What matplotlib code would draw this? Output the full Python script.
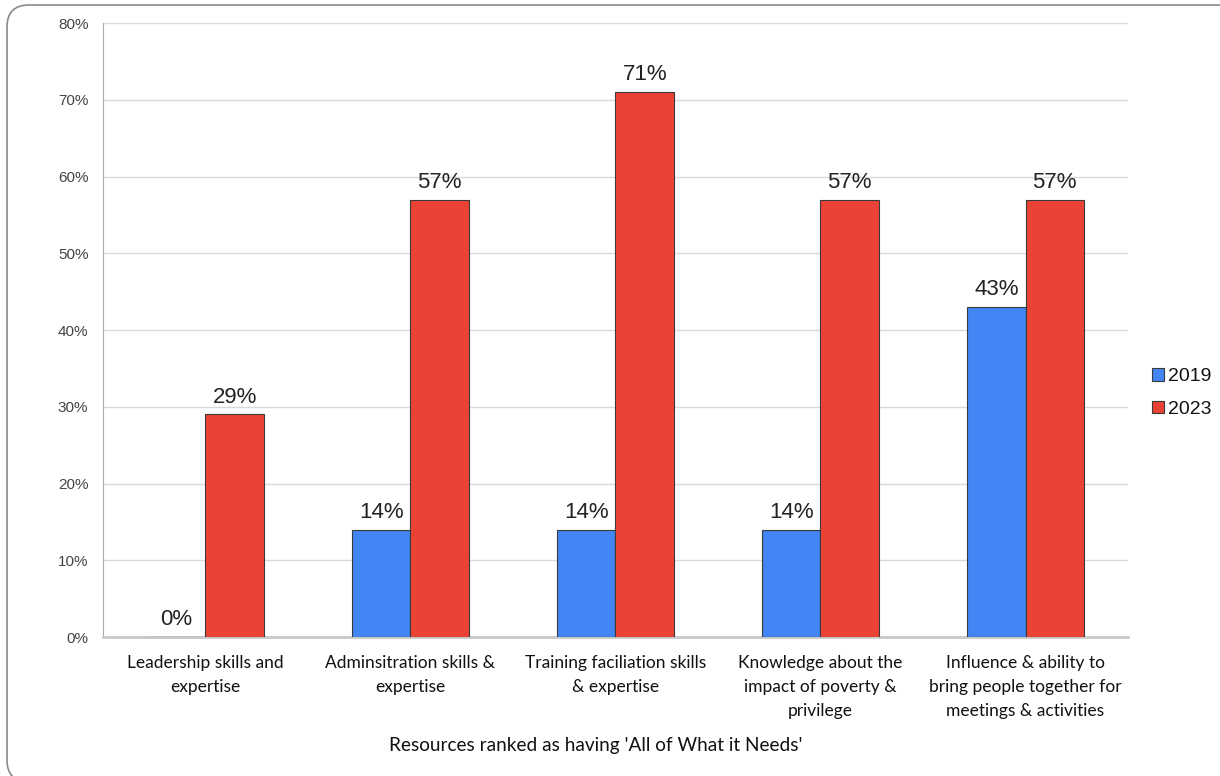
import matplotlib
matplotlib.use("agg")
import matplotlib.pyplot as plt
from matplotlib.patches import FancyBboxPatch, Patch
import numpy as np

categories = [
    "Leadership skills and\nexpertise",
    "Adminsitration skills &\nexpertise",
    "Training faciliation skills\n& expertise",
    "Knowledge about the\nimpact of poverty &\nprivilege",
    "Influence & ability to\nbring people together for\nmeetings & activities",
]
series_names = ["2019", "2023"]
values_2019 = [0, 14, 14, 14, 43]
values_2023 = [29, 57, 71, 57, 57]
colors = ["#4285F4", "#EA4335"]

fig = plt.figure(figsize=(12.2, 7.76), dpi=100)

# rounded frame, running off the right and bottom edges
frame = FancyBboxPatch((0.07, -0.06), 12.5, 7.77,
                       boxstyle="round,pad=0,rounding_size=0.22",
                       transform=fig.dpi_scale_trans, facecolor="none",
                       edgecolor="#8a8a8a", linewidth=1.2, zorder=-1)
fig.patches.append(frame)

ax = fig.add_axes([0.0844, 0.1791, 0.8402, 0.7912])
ax.set_facecolor("none")

x = np.arange(len(categories))
w = 0.285
for i, (vals, name) in enumerate(zip([values_2019, values_2023], series_names)):
    pos = x + (i - 0.5) * w
    ax.bar(pos, vals, width=w, color=colors[i], edgecolor="#3a3a3a",
           linewidth=0.8, label=name, zorder=3)
    for xp, v in zip(pos, vals):
        ax.annotate(f"{v}%", (xp, v), xytext=(0, 5), textcoords="offset points",
                    ha="center", va="bottom", fontsize=16, color="#222222",
                    family="Liberation Sans")

ax.set_xlim(-0.5, len(categories) - 0.5)
ax.set_ylim(0, 80)
ax.set_yticks(range(0, 81, 10))
ax.set_yticklabels([f"{t}%" for t in range(0, 81, 10)], family="Liberation Sans",
                   fontsize=11, color="#444444")
ax.set_xticks(x)
ax.set_xticklabels(categories, family="Lato", fontsize=12.5, color="#111111",
                   linespacing=1.6)
ax.tick_params(axis="both", length=0)
ax.tick_params(axis="x", pad=13)
ax.tick_params(axis="y", pad=10.5)
ax.grid(axis="y", color="#d9d9d9", linewidth=1, zorder=0)
for s in ["top", "right"]:
    ax.spines[s].set_visible(False)
ax.spines["left"].set_color("#aaaaaa")
ax.spines["bottom"].set_color("#c8c8c8")
ax.spines["bottom"].set_linewidth(2)

fig.text(596 / 1220, 1 - 745 / 776, "Resources ranked as having 'All of What it Needs'",
         family="Lato", fontsize=13.7, color="#111111", ha="center", va="center")

handles = [Patch(facecolor=c, edgecolor="#3a3a3a", linewidth=0.8) for c in colors]
leg = fig.legend(handles, series_names, loc="center left",
                 bbox_to_anchor=(0.933, 0.4936), frameon=False,
                 prop={"family": "Liberation Sans", "size": 14},
                 handlelength=0.6, handleheight=0.6, handletextpad=0.25,
                 labelspacing=0.8, borderpad=0.2)
for t in leg.get_texts():
    t.set_color("#111111")

fig.savefig("out.png", dpi=100)
